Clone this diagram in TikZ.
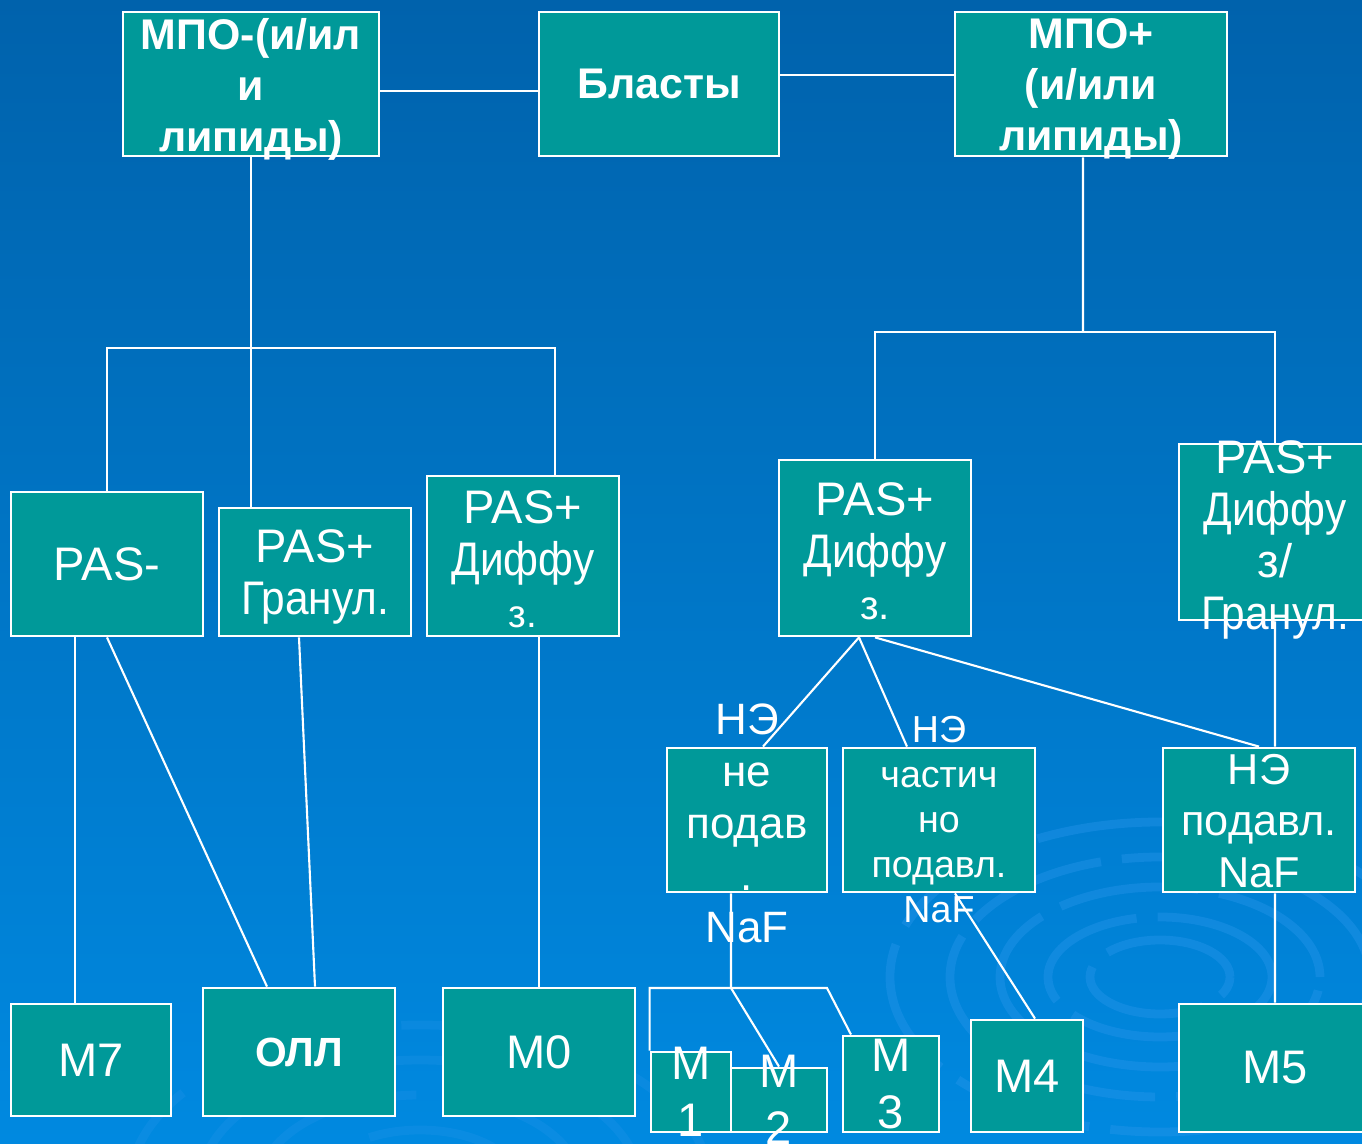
\documentclass[tikz,border=0pt]{standalone}
\usepackage{fontspec}
\setmainfont{Liberation Sans}
\newfontfamily\narrowsans[FakeStretch=0.9]{Liberation Sans}
\usepackage{tikz}
\usetikzlibrary{positioning,calc}

\definecolor{boxteal}{RGB}{0,153,153}
\definecolor{bgtop}{RGB}{0,98,172}
\definecolor{bgbot}{RGB}{0,137,224}
\definecolor{swirlc}{RGB}{40,150,235}

\tikzset{
  box/.style={draw=white, fill=boxteal, line width=.8pt, inner sep=0pt},
  boxsize/.style 2 args={minimum width=#1cm, minimum height=#2cm},
  lbl/.style={text=white, align=center, inner sep=0pt,
    font=\fontsize{13.4}{14.8}\selectfont},
  lblb/.style={lbl, font=\bfseries\fontsize{12.2}{14.5}\selectfont},
  link/.style={white, line width=.6pt},
  swirl/.style={swirlc, line width=2.5pt, opacity=.4}
}

\begin{document}
\begin{tikzpicture}
  \useasboundingbox (0,0) rectangle (13.62,-11.44);
  \shade[top color=bgtop, bottom color=bgbot] (0,0) rectangle (13.62,-11.44);
  % background rings
  \foreach \rx/\ry in {.7/.37,1.12/.6,1.6/.9,2.1/1.2,2.7/1.55}
    {\draw[swirl, dash pattern=on 40pt off 6pt] (11.6,-9.77) ellipse [x radius=\rx, y radius=\ry];}
  \foreach \rx/\ry in {1.0/.55,1.6/.9,2.2/1.25,2.9/1.6}
    {\draw[swirl, opacity=.25, dash pattern=on 50pt off 8pt] (4.2,-11.85) ellipse [x radius=\rx, y radius=\ry];}

  % top row
  \node[box, boxsize={2.56}{1.44}] (mpominus) at (2.51,-0.84) {};
  \node[box, boxsize={2.40}{1.44}] (blasty)   at (6.59,-0.84) {};
  \node[box, boxsize={2.72}{1.44}] (mpoplus)  at (10.91,-0.84) {};
  % PAS row
  \node[box, boxsize={1.92}{1.44}] (pasm)    at (1.07,-5.64) {};
  \node[box, boxsize={1.92}{1.28}] (pasgran) at (3.15,-5.72) {};
  \node[box, boxsize={1.92}{1.60}] (pasdifl) at (5.23,-5.56) {};
  \node[box, boxsize={1.92}{1.76}] (pasdifr) at (8.75,-5.48) {};
  \node[box, boxsize={1.92}{1.76}] (pasdg)   at (12.75,-5.32) {};
  % esterase row
  \node[box, boxsize={1.60}{1.44}] (ne1) at (7.47,-8.20) {};
  \node[box, boxsize={1.92}{1.44}] (ne2) at (9.39,-8.20) {};
  \node[box, boxsize={1.92}{1.44}] (ne3) at (12.59,-8.20) {};
  % bottom row
  \node[box, boxsize={1.60}{1.12}] (m7)  at (0.91,-10.60) {};
  \node[box, boxsize={1.92}{1.28}] (oll) at (2.99,-10.52) {};
  \node[box, boxsize={1.92}{1.28}] (m0)  at (5.39,-10.52) {};
  \node[box, boxsize={0.80}{0.80}] (m1)  at (6.91,-10.92) {};
  \node[box, boxsize={0.96}{0.64}] (m2)  at (7.79,-11.00) {};
  \node[box, boxsize={0.96}{0.96}] (m3)  at (8.91,-10.84) {};
  \node[box, boxsize={1.12}{1.12}] (m4)  at (10.27,-10.76) {};
  \node[box, boxsize={1.92}{1.28}] (m5)  at (12.75,-10.68) {};

  \coordinate (lsplit) at (2.51,-3.48);
  \coordinate (rsplit) at (10.83,-3.32);
  \coordinate (msplit) at (7.31,-9.88);
  \coordinate (mright) at (8.27,-9.88);

  % connectors
  \draw[link] ([yshift=-.07cm]mpominus.east) -- ([yshift=-.07cm]blasty.west);
  \draw[link] ([yshift=.09cm]blasty.east) -- ([yshift=.09cm]mpoplus.west);
  \draw[link] (mpominus.south) -- (mpominus.south |- pasgran.north);
  \draw[link] (pasm.north) |- (lsplit) -| ([xshift=.32cm]pasdifl.north);
  \draw[link] ([xshift=-.08cm]mpoplus.south) -- (rsplit);
  \draw[link] (pasdifr.north) |- (rsplit) -| (pasdg.north);
  \draw[link] ([xshift=-.32cm]pasm.south) -- ([xshift=-.16cm]m7.north);
  \draw[link] (pasm.south) -- ([xshift=-.32cm]oll.north);
  \draw[link] ([xshift=-.16cm]pasgran.south) -- ([xshift=.16cm]oll.north);
  \draw[link] ([xshift=.16cm]pasdifl.south) -- (m0.north);
  \draw[link] ([xshift=-.16cm]pasdifr.south) -- ([xshift=.16cm]ne1.north);
  \draw[link] ([xshift=-.16cm]pasdifr.south) -- ([xshift=-.32cm]ne2.north);
  \draw[link] (pasdifr.south) -- (ne3.north);
  \draw[link] (pasdg.south) -- ([xshift=.16cm]ne3.north);
  \draw[link] ([xshift=.16cm]ne3.south) -- (m5.north);
  \draw[link] ([xshift=-.16cm]ne1.south) -- (msplit);
  \draw[link] (m1.north west) |- (mright) -- ([xshift=-.40cm]m3.north);
  \draw[link] (msplit) -- (m2.north);
  \draw[link] ([xshift=.16cm]ne2.south) -- ([xshift=.08cm]m4.north);

  % texts
  \node[lblb] (mpominus-t) at ([yshift=-.05cm]mpominus) {МПО-(и/ил\\и\\липиды)};
  \node[lblb] (blasty-t)   at (blasty) {Бласты};
  \node[lblb] (mpoplus-t)  at ([yshift=-.05cm]mpoplus) {МПО+\\(и/или\\липиды)};
  \node[lbl] (pasm-t)    at (pasm) {PAS-};
  \node[lbl] (pasgran-t) at ([yshift=-.05cm]pasgran) {PAS+\\{\narrowsans Гранул.}};
  \node[lbl] (pasdifl-t) at ([yshift=-.03cm]pasdifl) {PAS+\\{\narrowsans Диффу}\\{\fontsize{11}{14.8}\selectfont з.}};
  \node[lbl] (pasdifr-t) at ([yshift=-.03cm]pasdifr) {PAS+\\{\narrowsans Диффу}\\{\fontsize{11.5}{14.8}\selectfont з.}};
  \node[lbl] (pasdg-t)   at ([yshift=-.08cm]pasdg) {PAS+\\{\narrowsans Диффу}\\з/\\{\narrowsans Гранул.}};
  \node[lbl, font=\fontsize{12.5}{14.8}\selectfont] (ne1-t) at ([yshift=-.03cm]ne1) {НЭ\\не\\подав\\.\\NaF};
  \node[lbl, font=\fontsize{10.7}{12.8}\selectfont] (ne2-t) at (ne2) {НЭ\\частич\\но\\подавл.\\NaF};
  \node[lbl, font=\fontsize{12.3}{14.6}\selectfont] (ne3-t) at ([yshift=-.01cm]ne3) {НЭ\\подавл.\\NaF};
  \node[lbl] (m7-t)  at (m7) {M7};
  \node[lblb, font=\bfseries\fontsize{11.6}{14}\selectfont] (oll-t) at (oll) {ОЛЛ};
  \node[lbl] (m0-t)  at (m0) {M0};
  \node[lbl, font=\fontsize{13.4}{16.2}\selectfont] (m1-t) at (m1) {M\\1};
  \node[lbl, font=\fontsize{13.4}{16.2}\selectfont] (m2-t) at (m2) {M\\2};
  \node[lbl, font=\fontsize{13.4}{16.2}\selectfont] (m3-t) at (m3) {M\\3};
  \node[lbl] (m4-t)  at (m4) {M4};
  \node[lbl] (m5-t)  at (m5) {M5};
\end{tikzpicture}
\end{document}
